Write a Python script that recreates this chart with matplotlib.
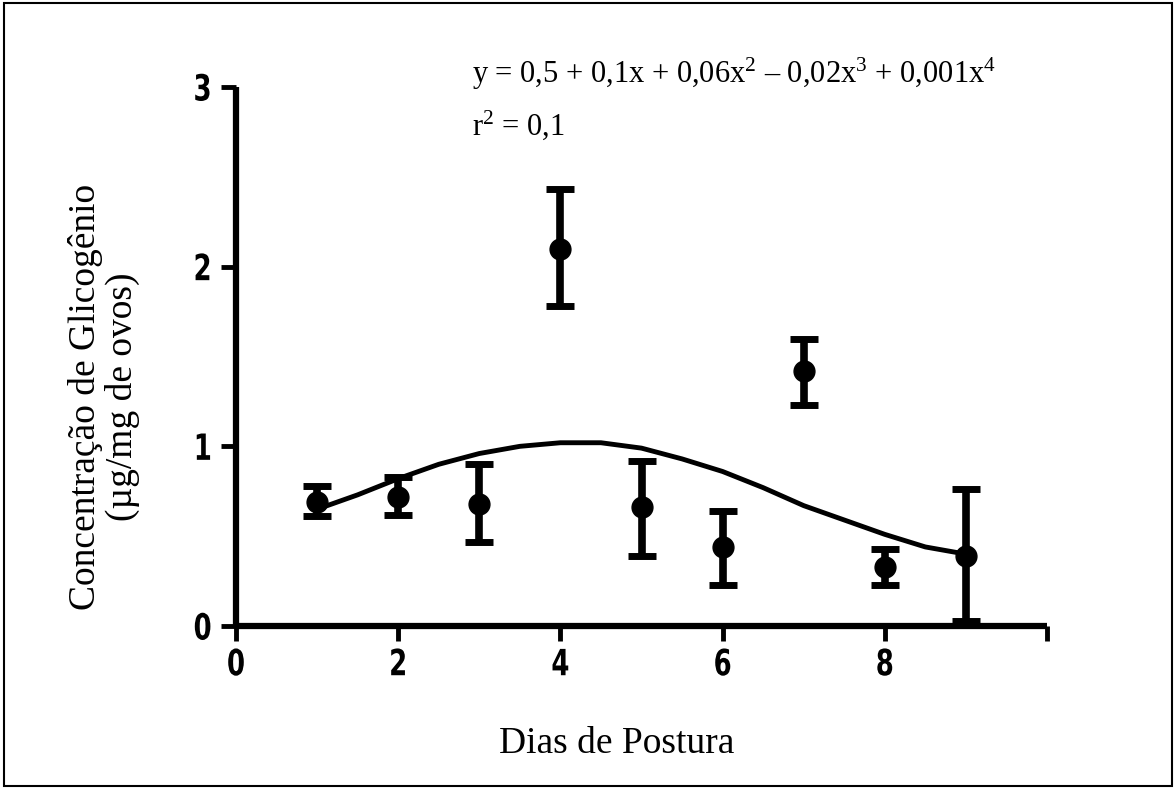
import matplotlib
matplotlib.use("Agg")
import matplotlib.pyplot as plt
from matplotlib.patches import Rectangle
from matplotlib.patheffects import AbstractPathEffect
from matplotlib.transforms import Affine2D

plt.rcParams['mathtext.fontset'] = 'custom'
plt.rcParams['mathtext.rm'] = 'Liberation Serif'
plt.rcParams['mathtext.it'] = 'Liberation Serif:italic'

# Data
days = [1, 2, 3, 4, 5, 6, 7, 8, 9]
mean = [0.69, 0.72, 0.68, 2.10, 0.66, 0.44, 1.42, 0.33, 0.39]
err_hi = [0.78, 0.83, 0.90, 2.43, 0.92, 0.64, 1.60, 0.43, 0.76]
err_lo = [0.61, 0.62, 0.47, 1.78, 0.39, 0.23, 1.23, 0.23, 0.03]

fit_x = [1.0, 1.5, 2.0, 2.5, 3.0, 3.5, 4.0, 4.5, 5.0, 5.5, 6.0, 6.5, 7.0, 7.5, 8.0, 8.5, 9.0]
fit_y = [0.65, 0.73, 0.82, 0.90, 0.96, 1.00, 1.02, 1.02, 0.99, 0.93, 0.86, 0.77, 0.67, 0.59, 0.51, 0.44, 0.40]

xticks = [0, 2, 4, 6, 8, 10]
xticklabels = ['0', '2', '4', '6', '8', '']
yticks = [0, 1, 2, 3]
yticklabels = ['0', '1', '2', '3']

equation = 'y = 0,5 + 0,1x + 0,06x$^{2}$ – 0,02x$^{3}$ + 0,001x$^{4}$'
r2_text = 'r$^{2}$ = 0,1'
xlabel = 'Dias de Postura'
ylabel = 'Concentração de Glicogênio\n(µg/mg de ovos)'


class Condense(AbstractPathEffect):
    """Draw text narrower (horizontal squeeze around its own centre)."""
    def __init__(self, sx=0.8):
        super().__init__()
        self._sx = sx

    def draw_path(self, renderer, gc, tpath, affine, rgbFace=None):
        ext = tpath.get_extents()
        cx = (ext.x0 + ext.x1) / 2
        t = Affine2D().translate(-cx, 0).scale(self._sx, 1).translate(cx, 0) + affine
        renderer.draw_path(gc, tpath, t, rgbFace)


fig = plt.figure(figsize=(11.76, 7.89), dpi=100)
ax = fig.add_axes([236/1176, 1 - 626/789, (1047 - 236)/1176, (626 - 87)/789])

yerr = [[m - lo for m, lo in zip(mean, err_lo)], [hi - m for m, hi in zip(mean, err_hi)]]
ax.errorbar(days, mean, yerr=yerr, fmt='o', color='black', markersize=15,
            elinewidth=5.5, capsize=10, capthick=5, clip_on=False, zorder=3)
ax.plot(fit_x, fit_y, color='black', linewidth=3.5, zorder=2)

ax.set_xlim(0, 10)
ax.set_ylim(0, 3)
for s in ['top', 'right']:
    ax.spines[s].set_visible(False)
for s in ['left', 'bottom']:
    ax.spines[s].set_linewidth(4.5)
    ax.spines[s].set_capstyle('butt')

tick_font = dict(family='DejaVu Sans', weight='bold', size=26)
ax.set_xticks(xticks)
ax.set_xticklabels(xticklabels, fontdict=tick_font)
ax.set_yticks(yticks)
ax.set_yticklabels(yticklabels, fontdict=tick_font)
ax.tick_params(axis='both', direction='out', length=11, width=3.5)
ax.tick_params(axis='x', pad=5)
ax.tick_params(axis='y', pad=4)
for lab in ax.get_xticklabels() + ax.get_yticklabels():
    lab.set_path_effects([Condense(0.72)])

fig.text(472/1176, 1 - 83/789, equation, ha='left', va='baseline',
         family='Liberation Serif', size=22)
fig.text(472/1176, 1 - 135/789, r2_text, ha='left', va='baseline',
         family='Liberation Serif', size=22)
fig.text(617/1176, 1 - 753/789, xlabel, ha='center', va='baseline',
         family='Liberation Serif', size=27)
fig.text(104/1176, 1 - 397/789, ylabel, ha='center', va='center', rotation=90,
         multialignment='center', linespacing=1.1, family='Liberation Serif', size=27)

fig.patches.append(Rectangle((0.003, 0.004), 0.994, 0.992, transform=fig.transFigure,
                             fill=False, edgecolor='black', linewidth=1.5))

fig.savefig('out.png', dpi=100)
